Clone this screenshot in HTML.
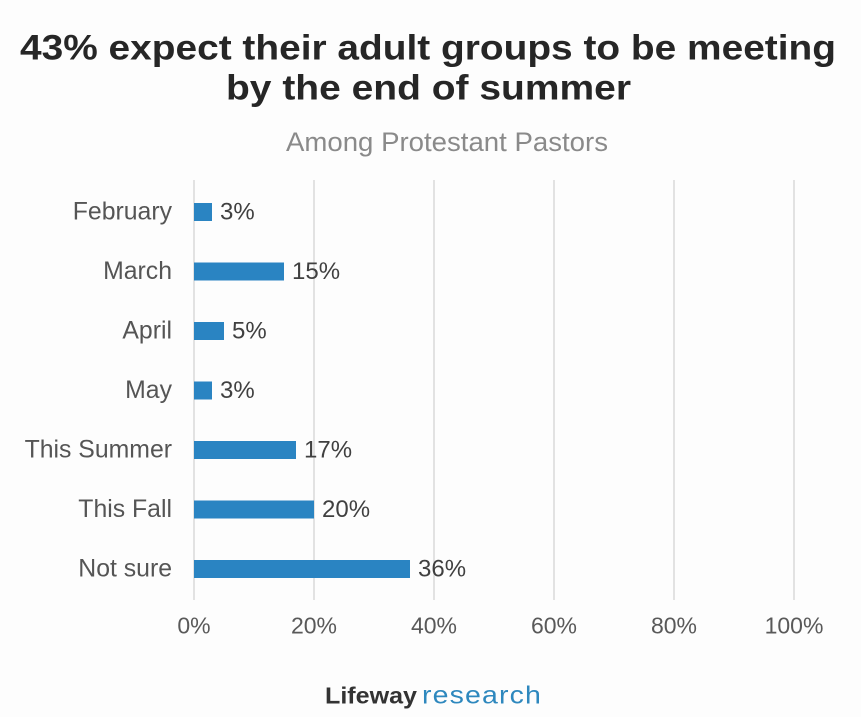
<!DOCTYPE html>
<html>
<head>
<meta charset="utf-8">
<style>
html,body{margin:0;padding:0;background:#fdfdfd;}
svg{display:block;}
text{font-family:"Liberation Sans",Arial,sans-serif;}
</style>
</head>
<body>
<svg width="861" height="717" viewBox="0 0 861 717" xmlns="http://www.w3.org/2000/svg">
<rect x="0" y="0" width="861" height="717" fill="#fdfdfd"/>
<!-- Title -->
<text x="428" y="59.5" text-anchor="middle" font-size="35" font-weight="bold" fill="#262626" textLength="816" lengthAdjust="spacingAndGlyphs">43% expect their adult groups to be meeting</text>
<text x="428.5" y="99.5" text-anchor="middle" font-size="35" font-weight="bold" fill="#262626" textLength="405" lengthAdjust="spacingAndGlyphs">by the end of summer</text>
<!-- Subtitle -->
<text x="447" y="151" text-anchor="middle" font-size="26.5" fill="#8a8a8a" textLength="322" lengthAdjust="spacingAndGlyphs">Among Protestant Pastors</text>

<!-- Gridlines -->
<g stroke="#d9d9d9" stroke-width="1.5">
<line x1="194" y1="180" x2="194" y2="600"/>
<line x1="314" y1="180" x2="314" y2="600"/>
<line x1="434" y1="180" x2="434" y2="600"/>
<line x1="554" y1="180" x2="554" y2="600"/>
<line x1="674" y1="180" x2="674" y2="600"/>
<line x1="794" y1="180" x2="794" y2="600"/>
</g>

<!-- Bars -->
<g fill="#2a84c2">
<rect x="194" y="203" width="18" height="18"/>
<rect x="194" y="262.5" width="90" height="18"/>
<rect x="194" y="322" width="30" height="18"/>
<rect x="194" y="381.5" width="18" height="18"/>
<rect x="194" y="441" width="102" height="18"/>
<rect x="194" y="500.5" width="120" height="18"/>
<rect x="194" y="560" width="216" height="18"/>
</g>

<!-- Category labels -->
<g font-size="24.8" fill="#555555" text-anchor="end">
<text x="172" y="219.5">February</text>
<text x="172" y="279">March</text>
<text x="172" y="338.5">April</text>
<text x="172" y="398">May</text>
<text x="172" y="457.5">This Summer</text>
<text x="172" y="517">This Fall</text>
<text x="172" y="576.5">Not sure</text>
</g>

<!-- Value labels -->
<g font-size="24" fill="#404040">
<text x="220" y="219.5">3%</text>
<text x="292" y="279">15%</text>
<text x="232" y="338.5">5%</text>
<text x="220" y="398">3%</text>
<text x="304" y="457.5">17%</text>
<text x="322" y="517">20%</text>
<text x="418" y="576.5">36%</text>
</g>

<!-- Axis tick labels -->
<g font-size="23" fill="#595959" text-anchor="middle">
<text x="194" y="633.5">0%</text>
<text x="314" y="633.5">20%</text>
<text x="434" y="633.5">40%</text>
<text x="554" y="633.5">60%</text>
<text x="674" y="633.5">80%</text>
<text x="794" y="633.5">100%</text>
</g>

<!-- Logo -->
<text x="325" y="703.5" font-size="23" font-weight="bold" fill="#333333" textLength="92" lengthAdjust="spacingAndGlyphs">Lifeway</text>
<text x="422" y="703.5" font-size="25" fill="#2e88be" textLength="120" lengthAdjust="spacingAndGlyphs" letter-spacing="1">research</text>
</svg>
</body>
</html>
